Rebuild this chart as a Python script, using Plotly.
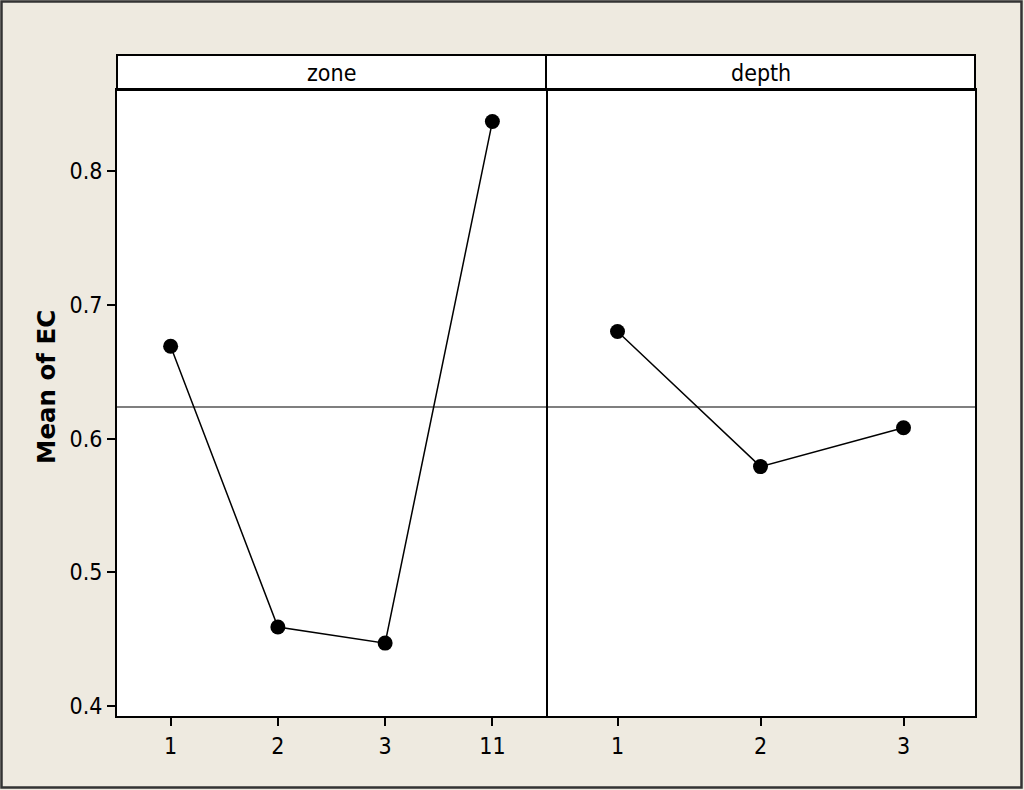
import plotly.graph_objects as go
from plotly.subplots import make_subplots

zone_labels = ["1", "2", "3", "11"]
zone_means = [0.669, 0.459, 0.447, 0.837]
depth_labels = ["1", "2", "3"]
depth_means = [0.680, 0.579, 0.608]
overall_mean = 0.6235
panel_titles = ["zone", "depth"]
y_title = "Mean of EC"

FONT = "DejaVu Sans Condensed, DejaVu Sans, sans-serif"
BG = "#EEEAE0"

W, H = 1024, 790
L, R, T, B = 117, 1024 - 975, 55, 790 - 716
pw, ph = W - L - R, H - T - B
hdr = 35
ytop = (ph - hdr) / ph

fig = make_subplots(rows=1, cols=2, shared_yaxes=True, horizontal_spacing=0)

fig.add_trace(go.Scatter(x=list(range(len(zone_labels))), y=zone_means, mode="lines+markers",
                         line=dict(color="black", width=1.5),
                         marker=dict(color="black", size=15), showlegend=False,
                         cliponaxis=False), row=1, col=1)
fig.add_trace(go.Scatter(x=list(range(len(depth_labels))), y=depth_means, mode="lines+markers",
                         line=dict(color="black", width=1.5),
                         marker=dict(color="black", size=15), showlegend=False,
                         cliponaxis=False), row=1, col=2)

xcommon = dict(showgrid=False, zeroline=False, showline=True, linecolor="black", linewidth=2,
               mirror=True, ticks="outside", ticklen=8, tickwidth=1.5, tickcolor="black",
               tickfont=dict(family=FONT, size=23, color="black"), fixedrange=True)
fig.update_xaxes(**xcommon)
fig.update_xaxes(range=[-0.5, len(zone_labels) - 0.5], tickmode="array",
                 tickvals=list(range(len(zone_labels))), ticktext=zone_labels,
                 domain=[0, 0.5], row=1, col=1)
fig.update_xaxes(range=[-0.5, len(depth_labels) - 0.5], tickmode="array",
                 tickvals=list(range(len(depth_labels))), ticktext=depth_labels,
                 domain=[0.5, 1], row=1, col=2)

fig.update_yaxes(showgrid=False, zeroline=False, showline=True, linecolor="black", linewidth=2,
                 range=[0.3925, 0.8606], domain=[0, ytop], fixedrange=True)
fig.update_yaxes(mirror=True, ticks="outside", ticklen=8, tickwidth=1.5, tickcolor="black",
                 tickvals=[0.4, 0.5, 0.6, 0.7, 0.8], ticktext=["0.4", "0.5", "0.6", "0.7", "0.8"],
                 tickfont=dict(family=FONT, size=23, color="black"), row=1, col=1)
fig.update_yaxes(side="right", mirror=False, showticklabels=False, ticks="", row=1, col=2)

shapes = []
# overall mean reference line
shapes.append(dict(type="line", xref="paper", yref="y", x0=0, x1=1, y0=overall_mean, y1=overall_mean,
                   line=dict(color="#555555", width=1.5), layer="below"))
# header boxes
for i, t in enumerate(panel_titles):
    shapes.append(dict(type="rect", xref="paper", yref="paper", x0=i * 0.5, x1=(i + 1) * 0.5,
                       y0=ytop, y1=1, line=dict(color="black", width=2), fillcolor="white",
                       layer="below"))
# outer frame
shapes.append(dict(type="rect", xref="paper", yref="paper",
                   x0=(1.5 - L) / pw, x1=(1021.5 - L) / pw,
                   y0=(H - B - 787.5) / ph, y1=(H - B - 1.5) / ph,
                   line=dict(color="#333333", width=2.5), fillcolor="rgba(0,0,0,0)"))

annotations = []
for i, t in enumerate(panel_titles):
    annotations.append(dict(text=t, xref="paper", yref="paper", x=i * 0.5 + 0.25,
                            y=(ytop + 1) / 2, showarrow=False, xanchor="center", yanchor="middle",
                            font=dict(family=FONT, size=23, color="black")))
annotations.append(dict(text="<b>" + y_title + "</b>", xref="paper", yref="paper",
                        x=(46 - L) / pw, y=(H - B - 387) / ph, textangle=-90, showarrow=False,
                        xanchor="center", yanchor="middle",
                        font=dict(family="DejaVu Sans, sans-serif", size=24.5, color="black")))

fig.update_layout(width=W, height=H, margin=dict(l=L, r=R, t=T, b=B, autoexpand=False),
                  paper_bgcolor=BG, plot_bgcolor="white", shapes=shapes, annotations=annotations)

fig.write_html("out.html", config={"displayModeBar": False},
               post_script="document.body.style.margin='0';document.body.style.overflow='hidden';")
